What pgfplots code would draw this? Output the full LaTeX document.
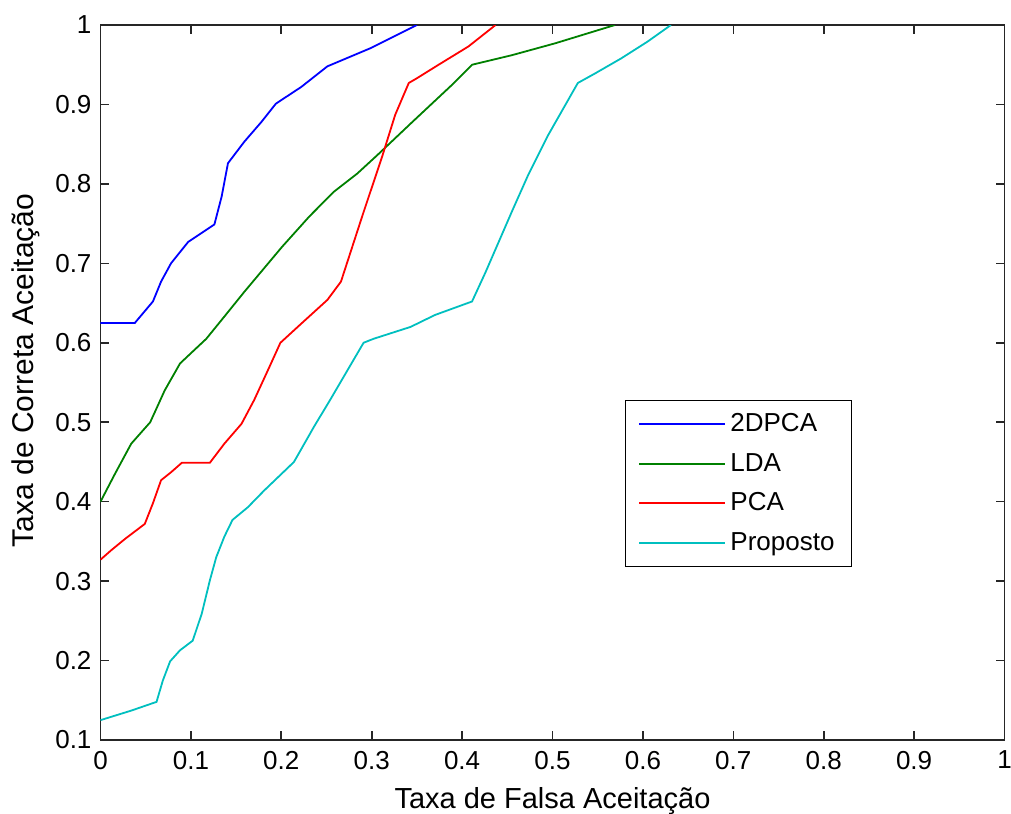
\documentclass[border=0pt]{standalone}
\usepackage{pgfplots}
\pgfplotsset{compat=1.18}
\usepackage{fontspec}
\setmainfont{Liberation Sans}
\definecolor{mblue}{rgb}{0,0,1}
\definecolor{mgreen}{rgb}{0,0.5,0}
\definecolor{mred}{rgb}{1,0,0}
\definecolor{mcyan}{rgb}{0,0.75,0.75}
\begin{document}
\begin{tikzpicture}
\begin{axis}[
  scale only axis,
  width=452bp, height=357.5bp,
  xmin=0, xmax=1, ymin=0.1, ymax=1,
  xtick={0,0.1,...,1.01}, ytick={0.1,0.2,...,1.01},
  tick align=inside, tick pos=both,
  major tick length=4.5bp,
  axis line style={line width=0.8bp, black!85},
  every tick/.style={line width=0.8bp, black!85},
  /pgf/number format/assume math mode=true,
  xticklabel style={font=\fontsize{13bp}{14bp}\selectfont, yshift=-2bp},
  yticklabel style={font=\fontsize{13bp}{14bp}\selectfont, xshift=-1bp},
  xlabel={Taxa de Falsa Aceitação},
  ylabel={Taxa de Correta Aceitação},
  xlabel style={font=\fontsize{14.5bp}{15bp}\selectfont, yshift=-2bp},
  ylabel style={font=\fontsize{15bp}{16bp}\selectfont, yshift=1bp, xshift=6bp},
  legend cell align=left,
  legend style={at={(rel axis cs:0.580,0.4755)}, anchor=north west,
    font=\fontsize{13bp}{14bp}\selectfont, draw=black, line width=0.6bp,
    row sep=5.3bp, inner xsep=6.5bp, inner ysep=4.5bp},
  legend image code/.code={\draw[#1, line width=1bp] (0bp,0bp) -- (43bp,0bp);},
  every axis plot/.append style={line width=0.9bp},
]
\addplot[mblue] coordinates {(0,0.625)(0.038,0.625)(0.058,0.652)(0.067,0.677)(0.078,0.70)(0.097,0.727)(0.126,0.749)(0.134,0.784)(0.141,0.826)(0.159,0.853)(0.178,0.878)(0.194,0.901)(0.222,0.922)(0.251,0.948)(0.299,0.971)(0.350,1.0)};
\addlegendentry{2DPCA}
\addplot[mgreen] coordinates {(0,0.40)(0.016,0.435)(0.034,0.473)(0.055,0.50)(0.071,0.540)(0.088,0.574)(0.102,0.589)(0.117,0.605)(0.137,0.633)(0.159,0.664)(0.201,0.721)(0.231,0.759)(0.258,0.790)(0.284,0.813)(0.306,0.836)(0.345,0.878)(0.391,0.927)(0.411,0.950)(0.455,0.962)(0.503,0.977)(0.569,1.0)};
\addlegendentry{LDA}
\addplot[mred] coordinates {(0,0.327)(0.012,0.339)(0.027,0.353)(0.049,0.372)(0.058,0.398)(0.067,0.427)(0.078,0.437)(0.090,0.449)(0.121,0.449)(0.137,0.473)(0.156,0.498)(0.170,0.528)(0.185,0.565)(0.199,0.600)(0.222,0.624)(0.251,0.654)(0.266,0.677)(0.290,0.761)(0.312,0.836)(0.326,0.887)(0.341,0.927)(0.350,0.933)(0.374,0.950)(0.407,0.973)(0.437,1.0)};
\addlegendentry{PCA}
\addplot[mcyan] coordinates {(0,0.125)(0.034,0.137)(0.062,0.148)(0.069,0.175)(0.077,0.199)(0.088,0.213)(0.102,0.225)(0.112,0.259)(0.121,0.301)(0.128,0.330)(0.137,0.356)(0.146,0.377)(0.163,0.393)(0.181,0.414)(0.214,0.450)(0.236,0.494)(0.255,0.530)(0.273,0.565)(0.291,0.600)(0.302,0.605)(0.343,0.620)(0.370,0.635)(0.411,0.652)(0.426,0.689)(0.455,0.765)(0.473,0.811)(0.495,0.861)(0.514,0.899)(0.528,0.927)(0.547,0.939)(0.576,0.958)(0.605,0.979)(0.631,1.0)};
\addlegendentry{Proposto}
\end{axis}
\pgfresetboundingbox
\path[use as bounding box] (-50.25bp,-37bp) rectangle (455.25bp,370bp);
\end{tikzpicture}
\end{document}
